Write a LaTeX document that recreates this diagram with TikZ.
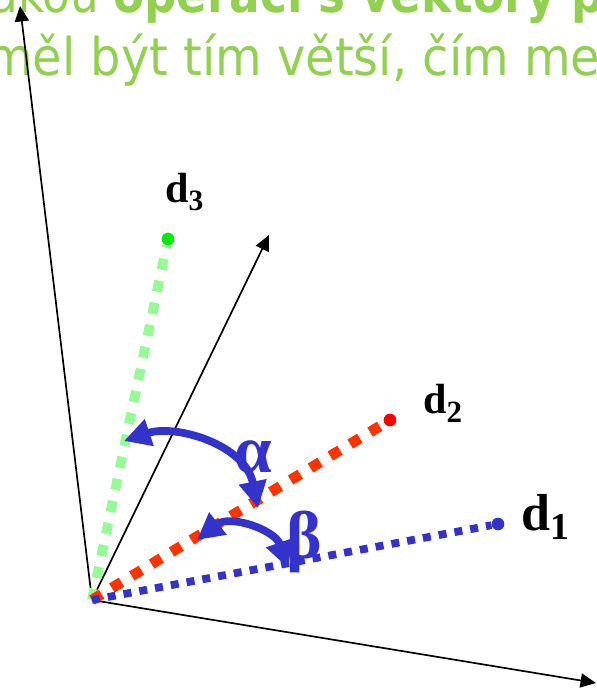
\documentclass[tikz,border=0pt]{standalone}
\usepackage{fontspec}
\setmainfont{Liberation Serif}
\newfontfamily\headfont{DejaVu Sans}
\usepackage{tikz}
\usetikzlibrary{arrows.meta}
\usepackage{xcolor}
\definecolor{headgreen}{RGB}{146,208,80}
\definecolor{lightgreen}{RGB}{150,250,150}
\definecolor{dotgreen}{RGB}{0,235,0}
\definecolor{vecred}{RGB}{255,51,0}
\definecolor{dotred}{RGB}{255,0,0}
\definecolor{vecblue}{RGB}{51,51,204}

\begin{document}
\begin{tikzpicture}[x=0.025cm,y=-0.025cm,line cap=butt,
  axis/.style={black,line width=1.2pt,-{Triangle[length=11pt,width=10pt]}},
  head/.style={anchor=base west,inner sep=0,text=headgreen,font=\headfont\fontsize{37}{44}\selectfont},
  vecdot/.style={circle,inner sep=0,minimum size=9pt},
  dlab/.style={anchor=base west,inner sep=0,font=\fontsize{30}{30}\selectfont\bfseries},
  greek/.style={anchor=base west,inner sep=0,text=vecblue,font=\fontsize{48}{48}\selectfont\bfseries},
  angarc/.style={vecblue,line width=5.5pt,{Triangle[length=19pt,width=19pt]}-{Triangle[length=19pt,width=19pt]}}]
\useasboundingbox (0,0) rectangle (597,690);

% heading (cut off by the page)
\node[head] (t1) at (-10,13) {\scalebox{0.87}[1]{akou \textbf{operací s vektory p}}};
\node[head] (t2) at (-14,75) {\scalebox{0.92}[1]{měl být tím větší, čím men}};

% axes
\coordinate (O) at (92,600);
\coordinate (e1) at (20,6);
\coordinate (e2) at (596,683);
\coordinate (e3) at (269,235);
\draw[axis] (O) -- (e1);
\draw[axis] (O) -- (e2);
\draw[axis] (O) -- (e3);

% document vectors
\node[vecdot,fill=dotgreen] (p3) at (168,239) {};
\node[vecdot,fill=dotred] (p2) at (390,420) {};
\node[vecdot,fill=vecblue] (p1) at (498,524) {};
\draw[lightgreen,line width=7pt,dash pattern=on 8pt off 8pt] (O) -- (p3);
\draw[vecred,line width=7.5pt,dash pattern=on 8pt off 8.5pt] (O) -- (p2);
\draw[vecblue,line width=5.5pt,dash pattern=on 5.7pt off 5.7pt] (O) -- (p1);

\node[dlab] (l3) at (165,202) {d\raisebox{-6pt}{\fontsize{21}{21}\selectfont 3}};
\node[dlab] (l2) at (423,413) {d\raisebox{-7pt}{\fontsize{22}{22}\selectfont 2}};
\node[dlab,font=\fontsize{37}{37}\selectfont\bfseries] (l1) at (521,530) {d\raisebox{-7pt}{\fontsize{27}{27}\selectfont 1}};

% angles
\coordinate (a1) at (124,441);
\coordinate (a2) at (258,508);
\coordinate (b1) at (197,540);
\coordinate (b2) at (288,568);
\draw[angarc] (a1) .. controls (175,424) and (245,444) .. (a2);
\draw[angarc] (b1) .. controls (230,514) and (275,530) .. (b2);
\node[greek] (alpha) at (234,472) {α};
\node[greek] (beta) at (286,558) {β};
\end{tikzpicture}
\end{document}
